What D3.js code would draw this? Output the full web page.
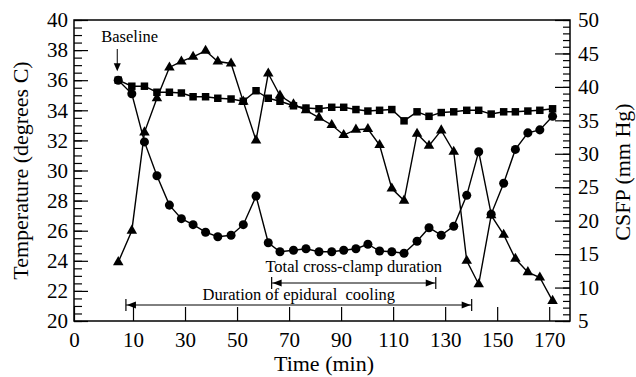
<!DOCTYPE html>
<html>
<head>
<meta charset="utf-8">
<script src="https://cdn.jsdelivr.net/npm/d3@7"></script>
</head>
<body style="margin:0; background:#fff">
<div id="chart"></div>
<script>
// sampling times (min)
const times = [7.5, 9.8, 14.4, 19.2, 24.0, 28.6, 33.1, 37.9, 42.6, 47.7, 52.4, 57.3, 62.0, 66.5, 71.7, 76.5, 81.5, 86.4,
    91.0, 95.7, 100.3, 104.8, 109.5, 114.2, 119.2, 123.8, 128.5, 133.3, 138.3, 142.9, 147.7, 152.5, 157.0, 161.8, 166.4, 171.3];

// circles - epidural temperature (degrees C)
const epiduralTemp = [36.0, 35.1, 31.9, 29.65, 27.7, 26.8, 26.4, 25.9, 25.6, 25.7, 26.4, 28.3, 25.2, 24.6, 24.7, 24.8, 24.6, 24.6,
    24.7, 24.8, 25.1, 24.65, 24.6, 24.5, 25.3, 26.2, 25.7, 26.3, 28.35, 31.25, 27.1, 29.15, 31.4, 32.5, 32.7, 33.6];

// squares - systemic temperature (degrees C)
const systemicTemp = [36.0, 35.6, 35.6, 35.2, 35.2, 35.15, 34.9, 34.9, 34.8, 34.75, 34.6, 35.3, 34.8, 34.6, 34.3, 34.15, 34.1, 34.2,
    34.2, 34.05, 33.95, 34.0, 34.05, 33.3, 33.9, 33.6, 33.85, 33.9, 34.0, 34.0, 33.75, 33.9, 33.9, 33.95, 34.0, 34.1];

// triangles - CSFP (mm Hg), right axis
const csfp = [13.8, 18.5, 33.2, 38.3, 42.9, 43.8, 44.5, 45.4, 43.8, 43.5, 37.8, 32.0, 42.0, 38.7, 37.4, 36.5, 35.4, 34.3,
    32.8, 33.6, 33.7, 31.3, 24.8, 23.0, 33.0, 31.2, 33.5, 30.3, 14.0, 10.5, 20.8, 17.9, 14.3, 12.3, 11.5, 8.0];

const xTicks = [0, 10, 30, 50, 70, 90, 110, 130, 150, 170];
const tempTicks = [20, 22, 24, 26, 28, 30, 32, 34, 36, 38, 40];
const csfpTicks = [5, 10, 15, 20, 25, 30, 35, 40, 45, 50];

// annotation spans (min)
const coolingSpan = [8.8, 140.2];
const clampSpan = [63.3, 126.4];

const width = 636, height = 377;
const plotLeft = 74, plotRight = 570, plotTop = 20, plotBottom = 321;
const font = "Liberation Serif";

const svg = d3.select("#chart")
    .append("svg")
    .attr("width", width)
    .attr("height", height);

// the first interval (0-10) is drawn wider than the rest on the original axis
const x = d3.scaleLinear().domain([0, 10, 178]).range([plotLeft, plotLeft + 59, plotRight]);
const yTemp = d3.scaleLinear().domain([20, 40]).range([plotBottom, plotTop]);
const yCsfp = d3.scaleLinear().domain([5, 50]).range([plotBottom, plotTop]);

// frame
svg.append("rect")
    .attr("x", plotLeft).attr("y", plotTop)
    .attr("width", plotRight - plotLeft).attr("height", plotBottom - plotTop)
    .attr("fill", "none").attr("stroke", "#000").attr("stroke-width", 1.5);

// left axis: minor then major ticks
svg.append("g")
    .attr("transform", `translate(${plotLeft},0)`)
    .call(d3.axisLeft(yTemp).tickValues(d3.range(20, 40.01, 0.5)).tickSize(-8).tickFormat(""))
    .call(g => g.select(".domain").remove());

svg.append("g")
    .attr("transform", `translate(${plotLeft},0)`)
    .call(d3.axisLeft(yTemp).tickValues(tempTicks).tickSize(-14).tickPadding(6))
    .call(g => g.select(".domain").remove());

// right axis
svg.append("g")
    .attr("transform", `translate(${plotRight},0)`)
    .call(d3.axisRight(yCsfp).tickValues(d3.range(5, 50.01, 1)).tickSize(-7).tickFormat(""))
    .call(g => g.select(".domain").remove());

svg.append("g")
    .attr("transform", `translate(${plotRight},0)`)
    .call(d3.axisRight(yCsfp).tickValues(csfpTicks).tickSize(-15).tickPadding(8))
    .call(g => g.select(".domain").remove());

// bottom axis
svg.append("g")
    .attr("transform", `translate(0,${plotBottom})`)
    .call(d3.axisBottom(x).tickValues(xTicks).tickSize(-14).tickPadding(11))
    .call(g => g.select(".domain").remove());

svg.selectAll("g").attr("font-family", font);
svg.selectAll(".tick line").attr("stroke", "#000").attr("stroke-width", 1.2);
svg.selectAll(".tick text")
    .attr("fill", "#000")
    .attr("font-family", font)
    .attr("font-size", 21);

// axis titles
svg.append("text")
    .attr("x", (plotLeft + plotRight) / 2 + 2).attr("y", 371)
    .attr("text-anchor", "middle")
    .attr("font-family", font)
    .attr("font-size", 22)
    .text("Time (min)");

svg.append("text")
    .attr("transform", `translate(27.5,${(plotTop + plotBottom) / 2}) rotate(-90)`)
    .attr("text-anchor", "middle")
    .attr("font-family", font)
    .attr("font-size", 22)
    .text("Temperature (degrees C)");

svg.append("text")
    .attr("transform", `translate(630,172) rotate(-90)`)
    .attr("text-anchor", "middle")
    .attr("font-family", font)
    .attr("font-size", 22)
    .text("CSFP (mm Hg)");

// series
const series = [
    { values: csfp, y: yCsfp, symbol: d3.symbolTriangle, size: 48 },
    { values: systemicTemp, y: yTemp, symbol: d3.symbolSquare, size: 56 },
    { values: epiduralTemp, y: yTemp, symbol: d3.symbolCircle, size: 64 }
];

series.forEach(s => {
    const line = d3.line()
        .x((d, i) => x(times[i]))
        .y(d => s.y(d));
    svg.append("path")
        .datum(s.values)
        .attr("d", line)
        .attr("fill", "none")
        .attr("stroke", "#000")
        .attr("stroke-width", 1.4);
});

series.forEach(s => {
    svg.append("g")
        .selectAll("path")
        .data(s.values)
        .enter()
        .append("path")
        .attr("transform", (d, i) => `translate(${x(times[i])},${s.y(d)})`)
        .attr("d", d3.symbol().type(s.symbol).size(s.size))
        .attr("fill", "#000");
});

// spans with arrows at both ends
const drawSpan = (span, yPix, label, labelY) => {
    const x0 = x(span[0]), x1 = x(span[1]);
    const g = svg.append("g");
    g.append("line")
        .attr("x1", x0).attr("x2", x1).attr("y1", yPix).attr("y2", yPix)
        .attr("stroke", "#000").attr("stroke-width", 1);
    [x0, x1].forEach(xx => {
        g.append("line")
            .attr("x1", xx).attr("x2", xx).attr("y1", yPix - 6).attr("y2", yPix + 6)
            .attr("stroke", "#000").attr("stroke-width", 1.2);
    });
    g.append("path")
        .attr("d", `M${x0 + 1},${yPix} L${x0 + 10},${yPix - 3.5} L${x0 + 10},${yPix + 3.5} Z`)
        .attr("fill", "#000");
    g.append("path")
        .attr("d", `M${x1 - 1},${yPix} L${x1 - 10},${yPix - 3.5} L${x1 - 10},${yPix + 3.5} Z`)
        .attr("fill", "#000");
    g.append("text")
        .attr("x", (x0 + x1) / 2).attr("y", labelY)
        .attr("text-anchor", "middle")
        .attr("font-family", font)
        .attr("font-size", 16.5)
        .style("white-space", "pre")
        .text(label);
};

drawSpan(clampSpan, 283, "Total cross-clamp duration", 272);
drawSpan(coolingSpan, 305, "Duration of epidural  cooling", 300);

// baseline marker
const bx = x(times[0]) - 1, by = yTemp(epiduralTemp[0]);
svg.append("text")
    .attr("x", bx - 16).attr("y", 42)
    .attr("font-family", font)
    .attr("font-size", 16.5)
    .text("Baseline");
svg.append("line")
    .attr("x1", bx).attr("x2", bx).attr("y1", 49).attr("y2", by - 14)
    .attr("stroke", "#000").attr("stroke-width", 1);
svg.append("path")
    .attr("d", `M${bx},${by - 9} L${bx - 3.5},${by - 17} L${bx + 3.5},${by - 17} Z`)
    .attr("fill", "#000");
</script>
</body>
</html>
